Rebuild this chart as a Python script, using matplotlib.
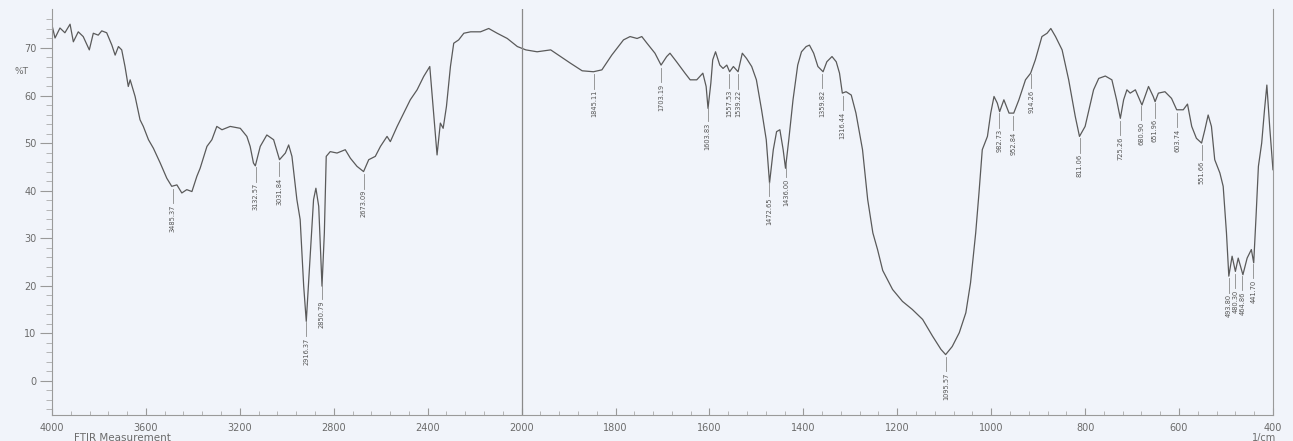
import numpy as np
import matplotlib.pyplot as plt
from matplotlib.ticker import FixedLocator

# spectrum: wavenumber (1/cm) and %T
wn = [4000, 3987, 3966, 3945, 3923, 3909, 3888, 3867, 3841, 3824, 3803, 3788, 3767, 3745,
      3731, 3717, 3703, 3689, 3675, 3667, 3646, 3625, 3611, 3589, 3568, 3539, 3511, 3490,
      3468, 3447, 3426, 3404, 3383, 3369, 3340, 3319, 3298, 3276, 3241, 3198, 3170, 3156,
      3142, 3134, 3113, 3085, 3056, 3031, 3006, 2992, 2978, 2957, 2943, 2928, 2917, 2903,
      2886, 2876, 2864, 2850, 2840, 2832, 2815, 2786, 2751, 2729, 2701, 2673, 2651, 2623,
      2601, 2573, 2559, 2530, 2502, 2474, 2445, 2417, 2391, 2377, 2360, 2346, 2334, 2320,
      2303, 2289, 2268, 2246, 2217, 2175, 2140, 2104, 2061, 2018, 1991, 1967, 1938, 1917,
      1896, 1871, 1847, 1829, 1808, 1783, 1769, 1754, 1744, 1733, 1716, 1703, 1691, 1684,
      1670, 1652, 1641, 1627, 1614, 1607, 1603, 1597, 1593, 1587, 1578, 1571, 1563, 1557,
      1549, 1539, 1530, 1521, 1510, 1500, 1489, 1479, 1472, 1464, 1457, 1450, 1443, 1438,
      1431, 1422, 1412, 1404, 1394, 1387, 1378, 1369, 1358, 1350, 1339, 1330, 1323, 1317,
      1309, 1298, 1288, 1274, 1263, 1252, 1242, 1231, 1210, 1189, 1168, 1146, 1125, 1107,
      1097, 1083, 1068, 1054, 1044, 1033, 1026, 1019, 1008, 1001, 994, 987, 982, 973,
      962, 952, 941, 927, 916, 906, 892, 881, 873, 863, 849, 835, 821, 812, 800, 793,
      782, 771, 757, 743, 733, 725, 718, 711, 704, 693, 679, 665, 655, 651, 644, 630,
      616, 605, 591, 582, 573, 563, 552, 545, 538, 531, 524, 513, 506, 499, 494, 487,
      480, 474, 464, 455, 446, 441, 436, 431, 424, 418, 413, 407, 400]
trans = [74.8, 72.1, 74.2, 73.2, 75.0, 71.3, 73.4, 72.4, 69.6, 73.1, 72.7, 73.6, 73.2, 70.6,
         68.5, 70.3, 69.6, 66.1, 61.9, 63.3, 59.8, 54.9, 53.5, 50.7, 48.9, 45.8, 42.6, 40.9,
         41.2, 39.5, 40.2, 39.8, 43.0, 44.7, 49.3, 50.7, 53.5, 52.8, 53.5, 53.1, 51.4, 49.3,
         45.8, 45.2, 49.3, 51.7, 50.7, 46.5, 47.9, 49.6, 47.2, 38.1, 33.9, 19.9, 12.5, 24.1,
         38.1, 40.5, 36.7, 19.9, 31.1, 47.2, 48.2, 47.9, 48.6, 46.8, 45.1, 44.0, 46.5, 47.2,
         49.3, 51.4, 50.3, 53.5, 56.3, 59.1, 61.2, 64.0, 66.1, 57.7, 47.5, 54.2, 53.1, 57.7,
         66.1, 71.0, 71.7, 73.1, 73.4, 73.4, 74.1, 73.1, 72.0, 70.3, 69.6, 69.2, 69.6, 68.2,
         66.8, 65.2, 65.0, 65.4, 68.5, 71.7, 72.4, 72.0, 72.4, 71.0, 68.9, 66.4, 68.2, 68.9,
         67.1, 64.7, 63.3, 63.3, 64.7, 61.9, 57.3, 62.6, 67.5, 69.2, 66.4, 65.7, 66.4, 65.0,
         66.1, 65.0, 68.9, 67.8, 66.1, 63.3, 57.0, 50.7, 41.6, 48.6, 52.4, 52.8, 48.6, 44.7,
         50.7, 59.1, 66.4, 69.2, 70.3, 70.6, 68.9, 66.1, 65.0, 67.1, 68.2, 67.1, 64.7, 60.5,
         60.8, 60.1, 56.3, 48.6, 38.1, 31.1, 27.6, 23.2, 19.2, 16.7, 15.0, 12.9, 9.4, 6.6,
         5.5, 7.2, 10.1, 14.3, 20.6, 31.1, 39.5, 48.6, 51.4, 56.3, 59.8, 58.4, 56.6, 59.1,
         56.3, 56.3, 59.1, 63.3, 64.7, 67.5, 72.4, 73.1, 74.1, 72.4, 69.6, 63.3, 55.6, 51.4, 53.5, 56.5,
         61.2, 63.6, 64.1, 63.3, 59.1, 55.2, 59.1, 61.2, 60.5, 61.2, 58.0, 61.9, 59.8, 58.7, 60.5, 60.8,
         59.4, 57.0, 57.0, 58.2, 53.5, 51.0, 50.0, 52.8, 55.9, 53.5, 46.5, 43.7, 40.9, 31.1, 22.0, 26.2,
         23.0, 25.8, 22.3, 25.8, 27.6, 24.8, 34.6, 45.1, 50.0, 57.0, 62.2, 53.5, 44.4]

peak_pos = [3485.37, 3132.57, 3031.84, 2916.37, 2850.79, 2673.09, 1845.11, 1703.19,
            1603.83, 1557.53, 1539.22, 1472.65, 1436.00, 1359.82, 1316.44, 1095.57,
            982.73, 952.84, 914.26, 811.06, 725.26, 680.90, 651.96, 603.74, 551.66,
            493.80, 480.30, 464.86, 441.70]

xticks = [4000, 3600, 3200, 2800, 2400, 2000, 1800, 1600, 1400, 1200, 1000, 800, 600, 400]
yticks = [0, 10, 20, 30, 40, 50, 60, 70]


# the instrument plots 4000-2000 at half the scale of 2000-400
def fwd(w):
    w = np.asarray(w, dtype=float)
    return np.where(w > 2000, 2000 + (w - 2000) / 2, w)


def inv(u):
    u = np.asarray(u, dtype=float)
    return np.where(u > 2000, 2000 + (u - 2000) * 2, u)


bg = "#f1f4fa"
grey = "#6b6b6b"

fig = plt.figure(figsize=(12.93, 4.41), dpi=100, facecolor=bg)
ax = fig.add_axes([0.0402, 0.059, 0.9443, 0.9206], facecolor=bg)
ax.set_xscale("function", functions=(fwd, inv))
ax.set_xlim(4000, 400)
ax.set_ylim(-7.2, 78.2)

ax.plot(wn, trans, color="#5a5a5a", lw=0.9)
ax.axvline(2000, color="#8a8a8a", lw=0.9)

wn_sorted = np.array(wn[::-1], dtype=float)
tr_sorted = np.array(trans[::-1], dtype=float)
for p in peak_pos:
    t = np.interp(p, wn_sorted, tr_sorted)
    ax.plot([p, p], [t - 0.6, t - 3.6], color="#8a8a8a", lw=0.6)
    ax.text(p, t - 3.9, "%.2f" % p, rotation=90, ha="center", va="top",
            fontsize=4.8, color="#555555")

ax.xaxis.set_major_locator(FixedLocator(xticks))
minor = list(np.arange(4000, 2000, -80)) + list(np.arange(2000, 400, -40))
ax.xaxis.set_minor_locator(FixedLocator(minor))
ax.set_xticklabels([str(v) for v in xticks])
ax.set_yticks(yticks)
ax.yaxis.set_minor_locator(FixedLocator(np.arange(-6, 78, 2)))

ax.tick_params(axis="x", which="major", direction="in", length=5, color="#999999",
               labelsize=7, labelcolor=grey, pad=6)
ax.tick_params(axis="x", which="minor", direction="in", length=3, color="#aaaaaa")
ax.tick_params(axis="y", which="major", direction="out", length=9, color="#999999",
               labelsize=7, labelcolor=grey, pad=2)
ax.tick_params(axis="y", which="minor", direction="out", length=4, color="#aaaaaa")

for s in ["left", "bottom", "right"]:
    ax.spines[s].set_color("#9a9a9a")
    ax.spines[s].set_linewidth(0.8)
ax.spines["top"].set_visible(False)

fig.text(0.011, 1 - 72 / 441, "%T", fontsize=6.5, color=grey, va="center")
fig.text(0.057, 1 - 438 / 441, "FTIR Measurement", fontsize=7.5, color=grey, va="center")
fig.text(0.978, 1 - 438 / 441, "1/cm", fontsize=7, color=grey, va="center", ha="center")

fig.savefig("out.png", dpi=100, facecolor=bg)
